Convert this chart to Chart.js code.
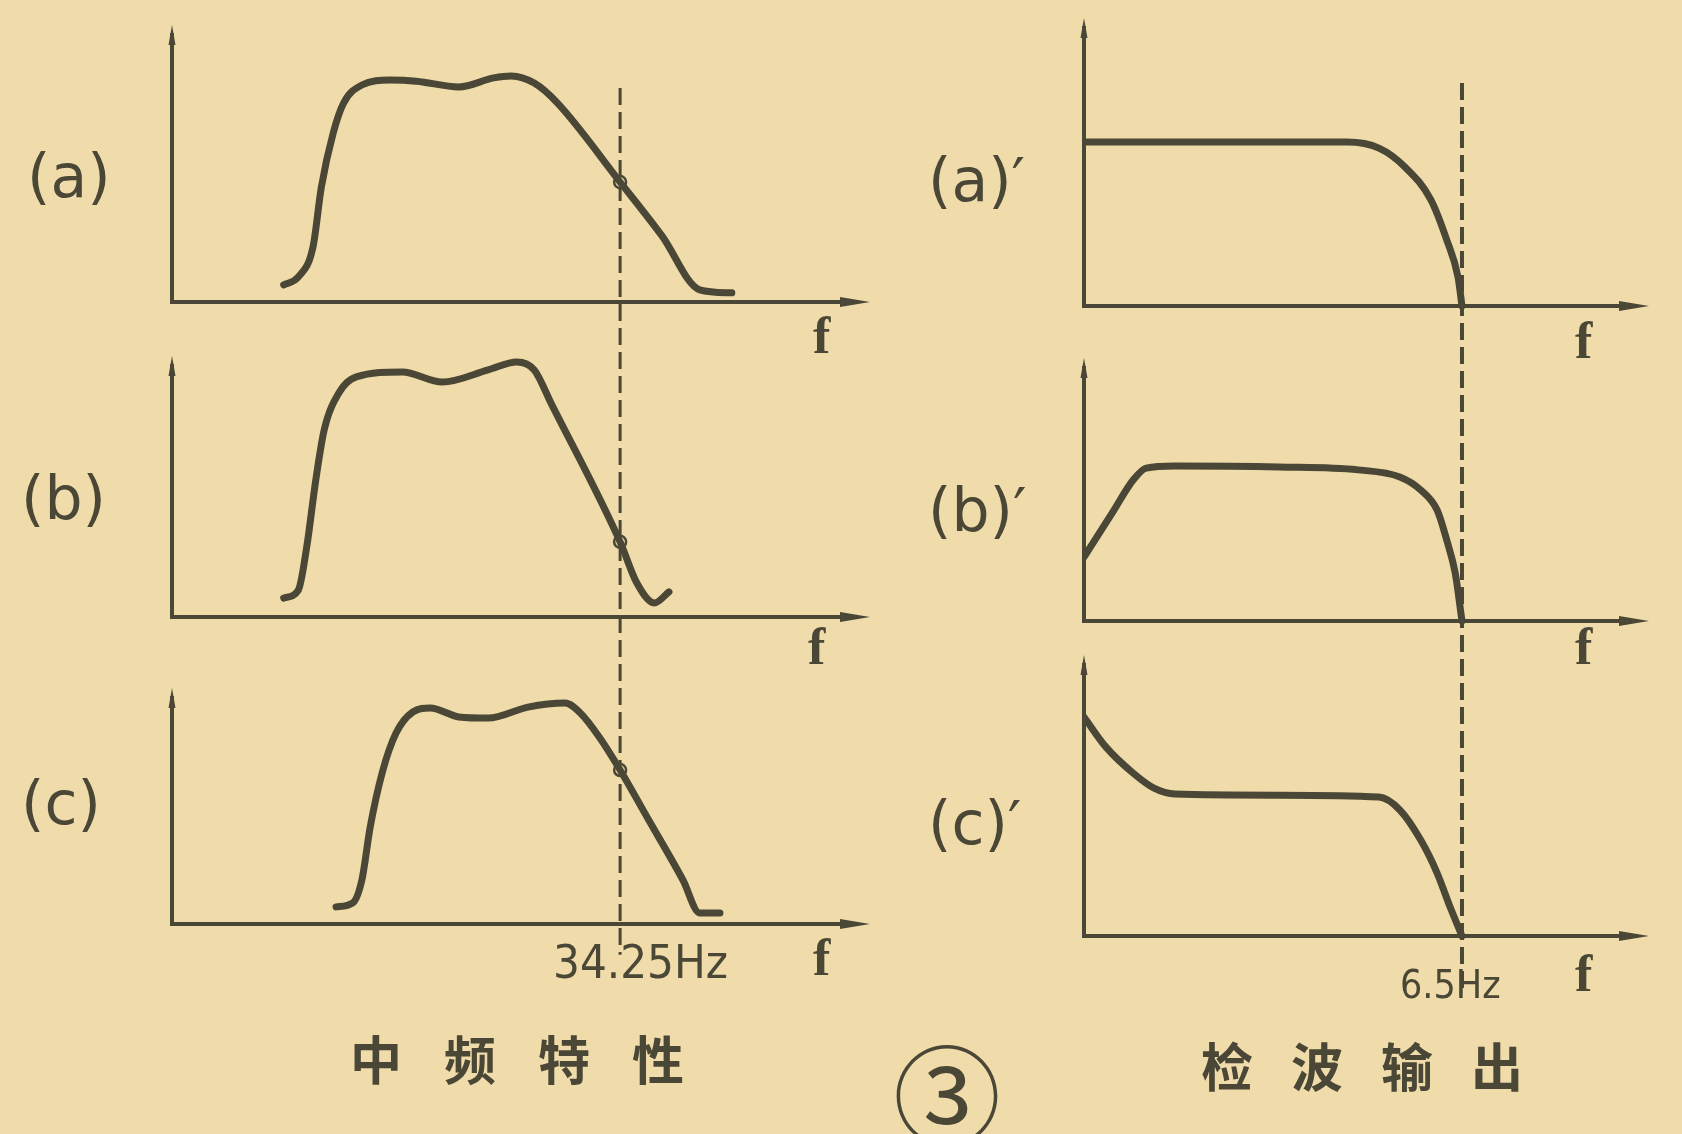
<!DOCTYPE html>
<html>
<head>
<meta charset="utf-8">
<title>中频特性 / 检波输出</title>
<script src="https://cdn.jsdelivr.net/npm/chart.js@4.4.1/dist/chart.umd.min.js"></script>
<style>
    html, body { margin: 0; padding: 0; }
    body {
        width: 1682px; height: 1134px; position: relative; overflow: hidden;
        background: #efdcaa;
        color: #4a4736;
        font-family: "DejaVu Sans", sans-serif;
    }
    canvas { position: absolute; left: 0; top: 0; }
    .lbl { position: absolute; white-space: nowrap; line-height: 1; }
    .panel { font-size: 60px; letter-spacing: 0px; }
    .f { font-family: "Liberation Serif", serif; font-size: 52px; font-weight: bold; }
    .hz { font-family: "DejaVu Sans Condensed", "DejaVu Sans", sans-serif; }
    .cjk { font-family: "Noto Sans CJK SC", sans-serif; font-size: 52px; font-weight: bold; }
</style>
</head>
<body>
<canvas id="leftChart" width="1682" height="1134"></canvas>
<canvas id="rightChart" width="1682" height="1134"></canvas>

<div class="lbl panel" style="left:27px; top:146px;">(a)</div>
<div class="lbl panel" style="left:21px; top:468px;">(b)</div>
<div class="lbl panel" style="left:21px; top:773px;">(c)</div>
<div class="lbl panel" style="left:928px; top:150px;">(a)′</div>
<div class="lbl panel" style="left:928px; top:480px;">(b)′</div>
<div class="lbl panel" style="left:928px; top:793px;">(c)′</div>

<div class="lbl f" style="left:813px; top:310px;">f</div>
<div class="lbl f" style="left:808px; top:621px;">f</div>
<div class="lbl f" style="left:813px; top:932px;">f</div>
<div class="lbl f" style="left:1575px; top:315px;">f</div>
<div class="lbl f" style="left:1575px; top:621px;">f</div>
<div class="lbl f" style="left:1575px; top:948px;">f</div>

<div class="lbl hz" style="left:553px; top:938px; font-size:47px;">34.25Hz</div>
<div class="lbl hz" style="left:1400px; top:965px; font-size:39px;">6.5Hz</div>

<div class="lbl cjk" style="left:350px; top:1032px; letter-spacing:42px;">中频特性</div>
<div class="lbl cjk" style="left:1201px; top:1039px; letter-spacing:38px;">检波输出</div>
<div class="lbl cjk" style="left:893px; top:1036px; font-size:108px; font-weight:normal;">③</div>

<script>
// colours of the printed page
const INK = '#4a4736';
const PAPER = '#efdcaa';

// x: relative frequency along each f axis (0 = vertical axis, 100 = arrow tip)
// y: relative amplitude (0 = f axis, 100 = top of the vertical axis)

// 中频特性 (a)
const ifAx = [16.0, 18.1, 20.2, 21.4, 23.1, 24.6, 27.2, 31.2, 35.0, 41.1, 46.1, 48.6, 51.9, 55.2, 64.2, 70.2, 75.6, 80.2];
const ifAy = [6.2, 9.1, 20.0, 41.8, 61.5, 72.4, 78.9, 80.7, 80.3, 78.2, 81.5, 82.2, 79.6, 72.4, 43.6, 24.0, 4.4, 3.3];
// 中频特性 (b)
const ifBx = [16.0, 18.1, 19.3, 20.6, 21.8, 23.9, 26.4, 33.0, 38.7, 45.3, 49.4, 51.9, 54.3, 64.2, 66.6, 69.1, 71.2];
const ifBy = [7.3, 10.4, 27.0, 52.9, 72.2, 86.5, 92.7, 94.6, 90.7, 95.4, 98.5, 95.4, 82.6, 29.0, 13.1, 5.4, 9.7];
// 中频特性 (c)
const ifCx = [23.5, 25.9, 27.2, 28.4, 30.1, 32.1, 34.5, 37.0, 41.1, 45.3, 51.0, 56.3, 58.5, 61.3, 64.2, 68.3, 73.2, 75.6, 78.5];
const ifCy = [7.3, 9.0, 18.8, 41.5, 64.5, 81.6, 90.6, 92.3, 88.5, 88.0, 92.7, 94.4, 90.2, 79.5, 65.8, 44.4, 18.8, 4.7, 4.7];
// 34.25Hz marker line and the small circles where the curves cross it
const ifCutoff = 64.2;
const ifMarkY = [43.6, 29.0, 65.8];

// 检波输出 (a)'
const detAx = [0, 20.0, 46.5, 52.2, 56.8, 61.4, 64.2, 66.2, 66.9];
const detAy = [57.3, 57.3, 57.3, 55.2, 48.6, 37.1, 23.1, 10.1, 0];
// 检波输出 (b)'
const detBx = [0, 5.0, 8.7, 11.0, 16.1, 34.5, 48.5, 55.9, 59.6, 62.5, 64.2, 65.7, 66.9];
const detBy = [24.5, 41.4, 54.0, 58.6, 59.4, 59.0, 57.9, 55.2, 50.2, 42.5, 31.0, 18.4, 0];
// 检波输出 (c)'
const detCx = [0, 3.9, 8.7, 12.4, 16.1, 34.5, 52.2, 55.9, 59.6, 62.5, 64.8, 66.9];
const detCy = [78.5, 67.7, 58.4, 53.0, 50.9, 50.5, 49.8, 45.2, 34.4, 22.6, 10.4, 0];
// 6.5Hz marker line
const detCutoff = 66.9;

function toPoints(xs, ys) {
    return xs.map((x, i) => ({ x: x, y: ys[i] }));
}

function curve(xs, ys, axisId) {
    return {
        data: toPoints(xs, ys),
        yAxisID: axisId,
        borderColor: INK,
        borderWidth: 7,
        borderCapStyle: 'round',
        borderJoinStyle: 'round',
        pointRadius: 0,
        cubicInterpolationMode: 'monotone',
        fill: false
    };
}

function mark(x, y, axisId) {
    return {
        data: [{ x: x, y: y }],
        yAxisID: axisId,
        showLine: false,
        pointRadius: 6,
        pointBorderWidth: 2.5,
        pointBorderColor: INK,
        pointBackgroundColor: PAPER
    };
}

// draws the axis pairs of each panel and the dashed cut-off line through the column
const axesPlugin = {
    id: 'axesPlugin',
    beforeDatasetsDraw(chart, args, opts) {
        const ctx = chart.ctx;
        const xs = chart.scales.x;
        const x0 = xs.getPixelForValue(0);
        const x1 = xs.getPixelForValue(100);
        ctx.save();
        ctx.strokeStyle = INK;
        ctx.fillStyle = INK;

        opts.panels.forEach(id => {
            const ys = chart.scales[id];
            const yb = ys.getPixelForValue(0);
            const yt = ys.getPixelForValue(100);
            ctx.lineWidth = 4;
            ctx.beginPath();
            ctx.moveTo(x0, yb + 2);
            ctx.lineTo(x0, yt + 6);
            ctx.moveTo(x0 - 2, yb);
            ctx.lineTo(x1 - 20, yb);
            ctx.stroke();
            // arrow on the f axis
            ctx.beginPath();
            ctx.moveTo(x1, yb);
            ctx.lineTo(x1 - 30, yb - 5);
            ctx.lineTo(x1 - 30, yb + 5);
            ctx.closePath();
            ctx.fill();
            // arrow on the vertical axis
            ctx.beginPath();
            ctx.moveTo(x0, yt - 2);
            ctx.lineTo(x0 - 3.5, yt + 18);
            ctx.lineTo(x0 + 3.5, yt + 18);
            ctx.closePath();
            ctx.fill();
        });

        const xc = xs.getPixelForValue(opts.cutoff);
        const top = chart.scales[opts.panels[0]].getPixelForValue(opts.dashTop);
        const bottom = chart.scales[opts.panels[opts.panels.length - 1]].getPixelForValue(opts.dashBottom);
        ctx.lineWidth = opts.dashWidth;
        ctx.setLineDash([17, 7]);
        ctx.beginPath();
        ctx.moveTo(xc, top);
        ctx.lineTo(xc, bottom);
        ctx.stroke();
        ctx.restore();
    }
};

function panelAxis(min, stackWeight, weight) {
    return {
        type: 'linear',
        display: false,
        position: 'left',
        stack: 'column',
        stackWeight: stackWeight,
        weight: weight,
        min: min,
        max: 100
    };
}

function columnOptions(padding, axes, plugOpts) {
    const scales = { x: { type: 'linear', display: false, min: 0, max: 100 } };
    Object.assign(scales, axes);
    return {
        responsive: false,
        animation: false,
        events: [],
        layout: { padding: padding },
        plugins: {
            legend: { display: false },
            tooltip: { enabled: false },
            axesPlugin: plugOpts
        },
        scales: scales
    };
}

new Chart(document.getElementById('leftChart'), {
    type: 'line',
    data: {
        datasets: [
            curve(ifAx, ifAy, 'ya'),
            curve(ifBx, ifBy, 'yb'),
            curve(ifCx, ifCy, 'yc'),
            mark(ifCutoff, ifMarkY[0], 'ya'),
            mark(ifCutoff, ifMarkY[1], 'yb'),
            mark(ifCutoff, ifMarkY[2], 'yc')
        ]
    },
    options: columnOptions(
        { left: 172, right: 812, top: 27, bottom: 134 },
        {
            ya: panelAxis(-20.4, 331, 3),
            yb: panelAxis(-28.2, 332, 2),
            yc: panelAxis(-32.5, 310, 1)
        },
        { panels: ['ya', 'yb', 'yc'], cutoff: ifCutoff, dashTop: 77.8, dashBottom: -13.2, dashWidth: 3 }
    ),
    plugins: [axesPlugin]
});

new Chart(document.getElementById('rightChart'), {
    type: 'line',
    data: {
        datasets: [
            curve(detAx, detAy, 'ya'),
            curve(detBx, detBy, 'yb'),
            curve(detCx, detCy, 'yc')
        ]
    },
    options: columnOptions(
        { left: 1084, right: 33, top: 20, bottom: 134 },
        {
            ya: panelAxis(-18.9, 340, 3),
            yb: panelAxis(-13.8, 297, 2),
            yc: panelAxis(-22.9, 343, 1)
        },
        { panels: ['ya', 'yb', 'yc'], cutoff: detCutoff, dashTop: 78, dashBottom: -19.4, dashWidth: 4 }
    ),
    plugins: [axesPlugin]
});
</script>
</body>
</html>
